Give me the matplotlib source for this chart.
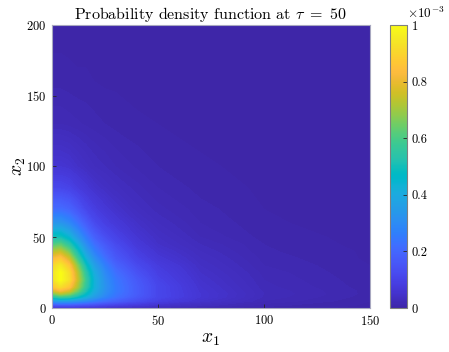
# PDF heatmap at tau = 50, MATLAB-like look

import numpy as np
import matplotlib.pyplot as plt
from matplotlib.colors import LinearSegmentedColormap, Normalize
from matplotlib.cm import ScalarMappable

plt.rcParams['font.family'] = 'serif'
plt.rcParams['font.serif'] = ['cmr10']
plt.rcParams['mathtext.fontset'] = 'cm'
plt.rcParams['axes.formatter.use_mathtext'] = True

# grid
x1 = [0, 4, 8, 12, 16, 20, 25, 30, 40, 50, 70, 100, 150]
x2 = [0, 2, 5, 8, 10, 12, 15, 20, 25, 30, 35, 40, 45, 50, 60, 70, 85, 100, 130, 160, 200]

# density values, units of 1e-3
pdf_e3 = np.array([
    [0.05, 0.05, 0.05, 0.05, 0.04, 0.04, 0.04, 0.03, 0.03, 0.02, 0.01, 0.008, 0.003],
    [0.14, 0.15, 0.15, 0.14, 0.13, 0.12, 0.10, 0.09, 0.07, 0.05, 0.03, 0.012, 0.004],
    [0.33, 0.36, 0.35, 0.32, 0.29, 0.25, 0.21, 0.18, 0.13, 0.09, 0.05, 0.020, 0.005],
    [0.53, 0.58, 0.56, 0.49, 0.42, 0.35, 0.28, 0.23, 0.16, 0.11, 0.06, 0.024, 0.007],
    [0.64, 0.71, 0.67, 0.57, 0.47, 0.38, 0.30, 0.24, 0.17, 0.11, 0.06, 0.025, 0.008],
    [0.74, 0.81, 0.76, 0.64, 0.51, 0.40, 0.31, 0.25, 0.17, 0.11, 0.058, 0.024, 0.008],
    [0.85, 0.92, 0.86, 0.71, 0.55, 0.42, 0.32, 0.25, 0.17, 0.11, 0.055, 0.022, 0.007],
    [0.92, 1.00, 0.93, 0.75, 0.57, 0.42, 0.31, 0.24, 0.16, 0.10, 0.050, 0.020, 0.006],
    [0.93, 1.00, 0.92, 0.73, 0.54, 0.40, 0.29, 0.22, 0.14, 0.09, 0.045, 0.018, 0.005],
    [0.90, 0.95, 0.86, 0.67, 0.49, 0.36, 0.26, 0.19, 0.12, 0.08, 0.040, 0.015, 0.005],
    [0.82, 0.86, 0.76, 0.58, 0.42, 0.31, 0.22, 0.16, 0.10, 0.065, 0.035, 0.013, 0.004],
    [0.72, 0.74, 0.65, 0.50, 0.36, 0.26, 0.19, 0.14, 0.085, 0.055, 0.030, 0.011, 0.004],
    [0.60, 0.62, 0.54, 0.42, 0.30, 0.22, 0.16, 0.12, 0.07, 0.045, 0.025, 0.010, 0.003],
    [0.50, 0.50, 0.44, 0.34, 0.25, 0.18, 0.13, 0.10, 0.06, 0.040, 0.020, 0.008, 0.003],
    [0.33, 0.33, 0.29, 0.23, 0.17, 0.12, 0.09, 0.07, 0.045, 0.030, 0.015, 0.006, 0.002],
    [0.21, 0.21, 0.19, 0.15, 0.11, 0.085, 0.065, 0.05, 0.032, 0.022, 0.012, 0.005, 0.002],
    [0.11, 0.11, 0.10, 0.08, 0.065, 0.05, 0.04, 0.032, 0.022, 0.015, 0.008, 0.004, 0.001],
    [0.06, 0.06, 0.055, 0.045, 0.037, 0.03, 0.025, 0.02, 0.014, 0.010, 0.006, 0.003, 0.001],
    [0.02, 0.02, 0.018, 0.016, 0.014, 0.012, 0.010, 0.008, 0.006, 0.005, 0.003, 0.002, 0.001],
    [0.008, 0.008, 0.007, 0.006, 0.006, 0.005, 0.004, 0.004, 0.003, 0.002, 0.002, 0.001, 0.0005],
    [0.002, 0.002, 0.002, 0.002, 0.002, 0.002, 0.001, 0.001, 0.001, 0.001, 0.0005, 0.0005, 0.0002],
])
pdf = pdf_e3 * 1e-3

cbar_ticks_e3 = [0, 0.2, 0.4, 0.6, 0.8, 1]

# parula (R2014b)
parula_rgb = [
    [0.2422, 0.1504, 0.6603], [0.2504, 0.1650, 0.7076], [0.2578, 0.1818, 0.7511],
    [0.2647, 0.1978, 0.7952], [0.2706, 0.2147, 0.8364], [0.2751, 0.2342, 0.8710],
    [0.2783, 0.2559, 0.8991], [0.2803, 0.2782, 0.9221], [0.2813, 0.3006, 0.9414],
    [0.2810, 0.3228, 0.9579], [0.2795, 0.3447, 0.9717], [0.2760, 0.3667, 0.9829],
    [0.2699, 0.3892, 0.9906], [0.2602, 0.4123, 0.9952], [0.2440, 0.4358, 0.9988],
    [0.2206, 0.4603, 0.9973], [0.1963, 0.4847, 0.9892], [0.1834, 0.5074, 0.9798],
    [0.1786, 0.5289, 0.9682], [0.1764, 0.5499, 0.9520], [0.1687, 0.5703, 0.9359],
    [0.1540, 0.5902, 0.9218], [0.1460, 0.6091, 0.9079], [0.1380, 0.6276, 0.8973],
    [0.1248, 0.6459, 0.8883], [0.1113, 0.6635, 0.8763], [0.0952, 0.6798, 0.8598],
    [0.0689, 0.6948, 0.8394], [0.0297, 0.7082, 0.8163], [0.0036, 0.7203, 0.7917],
    [0.0067, 0.7312, 0.7660], [0.0433, 0.7411, 0.7394], [0.0964, 0.7500, 0.7120],
    [0.1408, 0.7584, 0.6842], [0.1717, 0.7670, 0.6554], [0.1938, 0.7758, 0.6251],
    [0.2161, 0.7843, 0.5923], [0.2470, 0.7918, 0.5567], [0.2906, 0.7973, 0.5188],
    [0.3406, 0.8008, 0.4789], [0.3909, 0.8029, 0.4354], [0.4456, 0.8024, 0.3909],
    [0.5044, 0.7993, 0.3480], [0.5616, 0.7942, 0.3045], [0.6174, 0.7876, 0.2612],
    [0.6720, 0.7793, 0.2227], [0.7242, 0.7698, 0.1910], [0.7738, 0.7598, 0.1646],
    [0.8203, 0.7498, 0.1535], [0.8634, 0.7406, 0.1596], [0.9035, 0.7330, 0.1774],
    [0.9393, 0.7288, 0.2100], [0.9728, 0.7298, 0.2394], [0.9956, 0.7434, 0.2371],
    [0.9970, 0.7659, 0.2199], [0.9952, 0.7893, 0.2028], [0.9892, 0.8136, 0.1885],
    [0.9786, 0.8386, 0.1766], [0.9676, 0.8639, 0.1643], [0.9610, 0.8890, 0.1537],
    [0.9597, 0.9135, 0.1423], [0.9628, 0.9373, 0.1265], [0.9691, 0.9606, 0.1064],
    [0.9769, 0.9839, 0.0805],
]
parula = LinearSegmentedColormap.from_list('parula', parula_rgb, N=256)

fig = plt.figure(figsize=(4.49, 3.52), dpi=100)
ax = fig.add_axes([0.1158, 0.125, 0.708, 0.804])
cax = fig.add_axes([0.8686, 0.125, 0.038, 0.804])

levels = np.linspace(0, 1e-3, 200)
cs = ax.contourf(x1, x2, pdf, levels=levels, cmap=parula, extend='both', antialiased=False)

ax.set_xlim(0, 150)
ax.set_ylim(0, 200)
ax.set_xticks([0, 50, 100, 150])
ax.set_yticks([0, 50, 100, 150, 200])
ax.tick_params(direction='in', length=3, width=0.6, labelsize=9, color='#262626', pad=4)
for s in ax.spines.values():
    s.set_color('#a8a8c0')
    s.set_linewidth(0.8)

ax.set_title(r'Probability density function at $\tau\ =\ 50$', fontsize=11.5, pad=4)
ax.set_xlabel(r'$x_1$', fontsize=14, labelpad=2)
ax.set_ylabel(r'$x_2$', fontsize=14, labelpad=-1)

sm = ScalarMappable(norm=Normalize(0, 1e-3), cmap=parula)
cb = fig.colorbar(sm, cax=cax)
cb.set_ticks([t * 1e-3 for t in cbar_ticks_e3])
cb.set_ticklabels([f'{t:g}' for t in cbar_ticks_e3])
cb.ax.tick_params(direction='in', length=3, width=0.6, labelsize=9, color='#262626')
cb.outline.set_edgecolor('#808080')
cb.outline.set_linewidth(0.8)
cax.text(1.0, 1.015, r'$\times10^{-3}$', transform=cax.transAxes,
         ha='left', va='bottom', fontsize=9.5)

plt.savefig('out.png', dpi=100)
